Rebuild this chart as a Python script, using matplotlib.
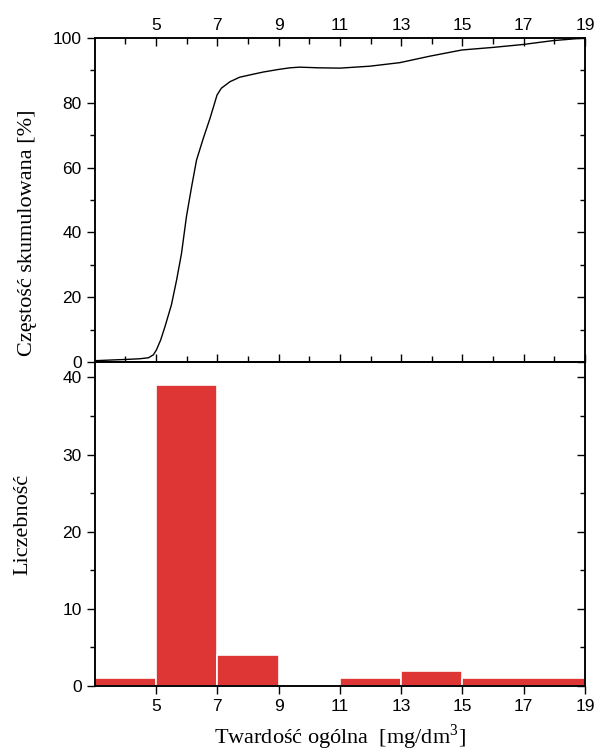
import matplotlib
matplotlib.use("Agg")
import matplotlib.pyplot as plt
from matplotlib.ticker import MultipleLocator, FixedLocator

# histogram bins (mg/dm3) and counts
bin_edges = [3, 5, 7, 9, 11, 13, 15, 19]
counts = [1, 39, 4, 0, 1, 2, 1]

# cumulative frequency curve
cum_x = [3.0, 3.5, 4.05, 4.47, 4.75, 4.91, 5.01, 5.15, 5.29, 5.5, 5.67, 5.83,
         5.99, 6.16, 6.32, 6.54, 6.76, 6.99, 7.13, 7.41, 7.73, 8.06,
         8.5, 9.0, 9.37, 9.69, 10.3, 11.0, 11.98, 12.96, 13.94, 14.98,
         16.0, 16.98, 17.96, 19.0]
cum_y = [0.4, 0.6, 0.8, 1.0, 1.3, 2.2, 3.7, 6.8, 10.9, 17.6, 25.3, 33.5,
         44.8, 54.1, 62.3, 69.0, 75.2, 82.4, 84.5, 86.5, 87.9, 88.6,
         89.5, 90.3, 90.8, 91.0, 90.8, 90.7, 91.3, 92.4, 94.4, 96.3,
         97.1, 98.0, 99.2, 100.0]

BAR_COLOR = "#dd3634"
SERIF = ["Liberation Serif", "DejaVu Serif"]
SANS = ["Liberation Sans", "DejaVu Sans"]

plt.rcParams["font.family"] = SANS
plt.rcParams["axes.linewidth"] = 1.1
plt.rcParams["mathtext.fontset"] = "custom"
plt.rcParams["mathtext.rm"] = "Liberation Serif"

fig = plt.figure(figsize=(6.0, 7.54), dpi=100)
ax_top = fig.add_axes([0.158, 0.5199, 0.817, 0.4297])
ax_bot = fig.add_axes([0.158, 0.0902, 0.817, 0.4297])


def inner_right_ticks(ax, major, minor):
    # right spine ticks pointing inward, without labels
    tw = ax.twinx()
    tw.set_ylim(ax.get_ylim())
    tw.yaxis.set_major_locator(MultipleLocator(major))
    tw.yaxis.set_minor_locator(MultipleLocator(minor))
    tw.tick_params(axis="y", which="both", direction="in", labelright=False, width=1)
    tw.tick_params(axis="y", which="major", length=6)
    tw.tick_params(axis="y", which="minor", length=3.5)
    return tw


# ── cumulative curve ────────────────────────────────────────────────────────
ax_top.plot(cum_x, cum_y, color="black", linewidth=1.0)
ax_top.set_xlim(3, 19)
ax_top.set_ylim(0, 100)
ax_top.yaxis.set_major_locator(MultipleLocator(20))
ax_top.yaxis.set_minor_locator(MultipleLocator(10))
ax_top.xaxis.set_major_locator(FixedLocator([5, 7, 9, 11, 13, 15, 17, 19]))
ax_top.xaxis.set_minor_locator(FixedLocator([4, 6, 8, 10, 12, 14, 16, 18]))
ax_top.tick_params(axis="y", which="both", direction="out", labelsize=12.5, width=1)
ax_top.tick_params(axis="y", which="major", length=6)
ax_top.tick_params(axis="y", which="minor", length=3.5)
ax_top.tick_params(axis="x", which="both", direction="in", top=True, bottom=True,
                   labeltop=True, labelbottom=False, labelsize=12.5, width=1)
ax_top.tick_params(axis="x", which="major", length=6)
ax_top.tick_params(axis="x", which="minor", length=4)
ax_top.set_ylabel("Częstość skumulowana [%]", family=SERIF, fontsize=16)
ax_top.yaxis.set_label_coords(-0.118, 0.40)
inner_right_ticks(ax_top, 20, 10)

# ── histogram ───────────────────────────────────────────────────────────────
widths = [b - a for a, b in zip(bin_edges[:-1], bin_edges[1:])]
ax_bot.bar(bin_edges[:-1], counts, width=widths, align="edge",
           color=BAR_COLOR, edgecolor="white", linewidth=1.2)
ax_bot.set_xlim(3, 19)
ax_bot.set_ylim(0, 42)
ax_bot.yaxis.set_major_locator(MultipleLocator(10))
ax_bot.yaxis.set_minor_locator(MultipleLocator(5))
ax_bot.xaxis.set_major_locator(FixedLocator([5, 7, 9, 11, 13, 15, 17, 19]))
ax_bot.tick_params(axis="y", which="both", direction="out", labelsize=12.5, width=1)
ax_bot.tick_params(axis="y", which="major", length=6)
ax_bot.tick_params(axis="y", which="minor", length=3.5)
ax_bot.tick_params(axis="x", which="major", direction="out", length=6, width=1,
                   labelsize=12.5)
ax_bot.set_ylabel("Liczebność", family=SERIF, fontsize=16)
ax_bot.yaxis.set_label_coords(-0.128, 0.5)
ax_bot.set_xlabel(r"Twardość ogólna  [mg/dm$^{\mathrm{3}}$]", family=SERIF, fontsize=16)
ax_bot.xaxis.labelpad = 6
inner_right_ticks(ax_bot, 10, 5)

fig.savefig("out.png", dpi=100)
